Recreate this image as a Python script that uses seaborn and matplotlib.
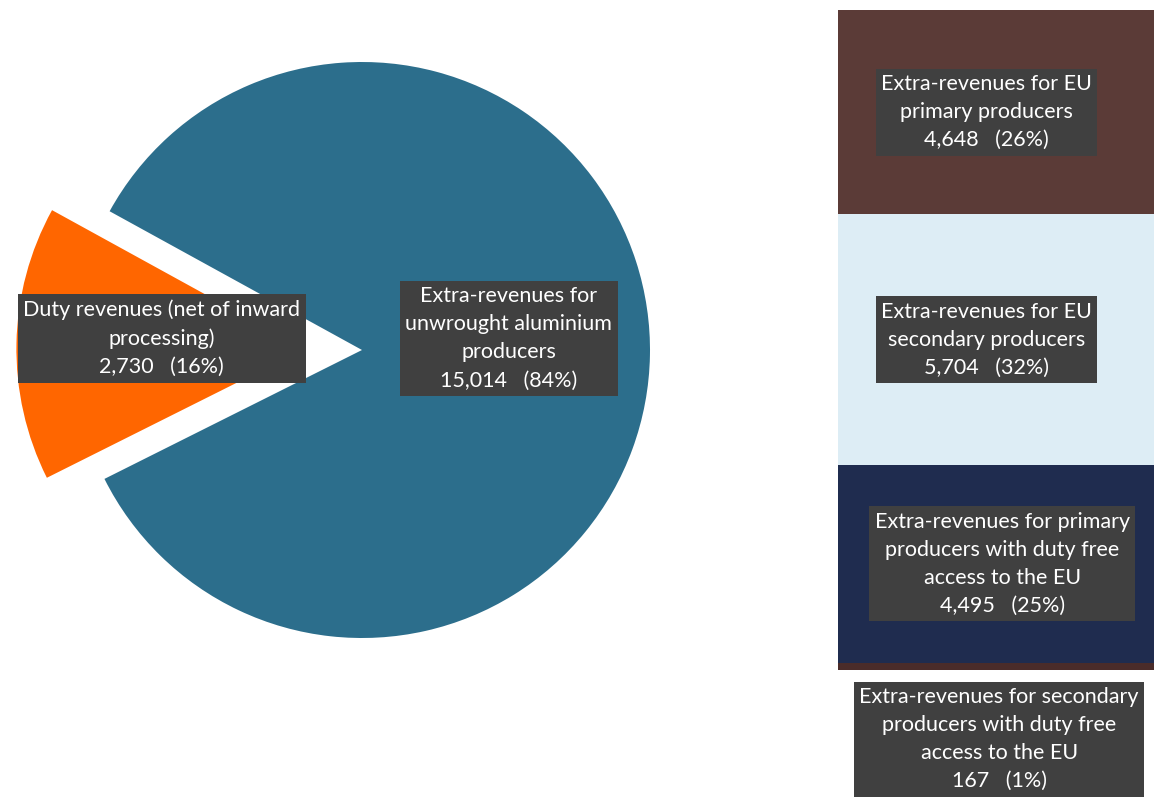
import matplotlib
matplotlib.use("Agg")
import matplotlib.pyplot as plt
import seaborn as sns
import numpy as np

# ---- data ----
pie_labels = ["Duty revenues (net of inward\nprocessing)",
              "Extra-revenues for\nunwrought aluminium\nproducers"]
pie_values = [2730, 15014]
pie_pcts = [16, 84]
pie_colors = ["#FF6600", "#2C6E8C"]

bar_labels = ["Extra-revenues for EU\nprimary producers",
              "Extra-revenues for EU\nsecondary producers",
              "Extra-revenues for primary\nproducers with duty free\naccess to the EU",
              "Extra-revenues for secondary\nproducers with duty free\naccess to the EU"]
bar_values = [4648, 5704, 4495, 167]
bar_pcts = [26, 32, 25, 1]
bar_colors = ["#5B3B37", "#DDEDF5", "#1F2C4F", "#4A2C2A"]

sns.set_theme(style="white")
plt.rcParams['font.family'] = ['Lato', 'DejaVu Sans']

W, H = 1154, 801
fig = plt.figure(figsize=(W / 100, H / 100), dpi=100)
fig.patch.set_facecolor("white")

box = dict(boxstyle="square,pad=0.25", facecolor="#404040", edgecolor="none")
fs = 15.5
ls = 1.5

# ---- pie ----
R = 288.0
cx, cy = 362.0, 350.0
axp = fig.add_axes([0, 0, 720 / W, 1])
axp.pie(pie_values, colors=pie_colors, explode=[0.2, 0], startangle=180 - 180 * pie_pcts[0] / 100,
        counterclock=True, radius=1, wedgeprops=dict(linewidth=0))
axp.set_xlim(-cx / R, (720 - cx) / R)
axp.set_ylim(-(H - cy) / R, cy / R)
axp.set_aspect("auto")
axp.axis("off")

pie_pos = [(-0.695, 0.04), (0.51, 0.04)]
for lab, v, p, (x, y) in zip(pie_labels, pie_values, pie_pcts, pie_pos):
    axp.text(x, y, f"{lab}\n{v:,}   ({p}%)", ha="center", va="center", color="white",
             fontsize=fs, linespacing=ls, bbox=box)

# ---- stacked bar ----
bx0, bx1 = 838, 1154
top_px, bot_px = 10, 670
axb = fig.add_axes([bx0 / W, (H - bot_px) / H, (bx1 - bx0) / W, (bot_px - top_px) / H])
order = bar_values[::-1]
cols = bar_colors[::-1]
cum = np.cumsum(order)
for i in range(len(cum) - 1, -1, -1):
    sns.barplot(x=[0], y=[cum[i]], color=cols[i], width=1.0, ax=axb,
                saturation=1, linewidth=0, native_scale=True)
axb.set_xlim(-0.5, 0.5)
axb.set_ylim(0, cum[-1])
axb.axis("off")

bottoms = np.concatenate([[0], cum[:-1]])
labs = bar_labels[::-1]
vals = order
pcts = bar_pcts[::-1]
xoffs = [0.01, 0.02, -0.03, -0.03]
for i in range(len(cum)):
    mid = bottoms[i] + vals[i] / 2
    txt = f"{labs[i]}\n{vals[i]:,}   ({pcts[i]}%)"
    if i == 0:
        axb.text(xoffs[i], -0.105, txt, transform=axb.get_xaxis_transform(),
                 ha="center", va="center", color="white", fontsize=fs, linespacing=ls,
                 bbox=box, clip_on=False)
    else:
        axb.text(xoffs[i], mid, txt, ha="center", va="center", color="white",
                 fontsize=fs, linespacing=ls, bbox=box)

fig.savefig("out.png", dpi=100, facecolor="white")
